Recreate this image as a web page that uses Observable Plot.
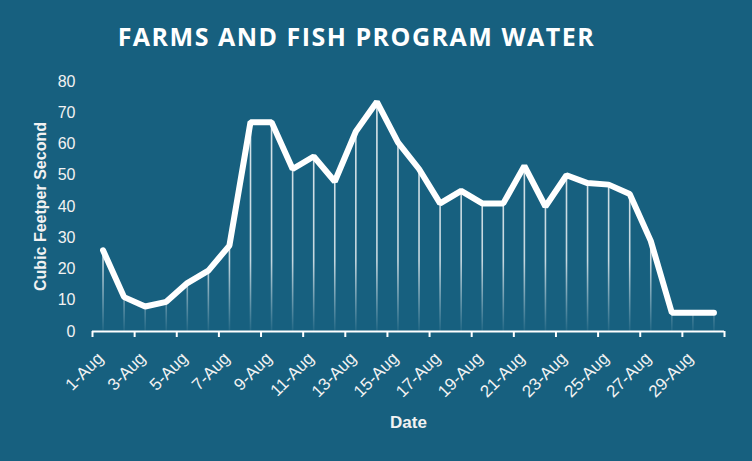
<!DOCTYPE html>
<html>
<head>
<meta charset="utf-8">
<script src="https://cdn.jsdelivr.net/npm/d3@7"></script>
<script src="https://cdn.jsdelivr.net/npm/@observablehq/plot@0.6"></script>
<style>
  html, body { margin: 0; padding: 0; background: #17607f; }
  #wrap { width: 752px; height: 461px; background: #17607f; position: relative; overflow: hidden; }
  #title { position: absolute; left: 0; top: 0; width: 713px; height: 60px; line-height: 72px; text-align: center;
    font-family: "Open Sans", sans-serif; font-weight: 700; font-size: 25px; letter-spacing: 1.5px; color: #ffffff; }
  #chart { position: absolute; left: 0; top: 60px; }
</style>
</head>
<body>
<div id="wrap">
  <div id="title">FARMS AND FISH PROGRAM WATER</div>
  <div id="chart"></div>
</div>
<script>
const days = [1,2,3,4,5,6,7,8,9,10,11,12,13,14,15,16,17,18,19,20,21,22,23,24,25,26,27,28,29,30];
const flow = [26,11,8,9.5,15.5,19.5,27.5,67,67,52,56,48,64,73.5,60.5,52,41,45,41,41,53,40,50,47.5,47,44,29,6,6,6];
const labelDays = [1,3,5,7,9,11,13,15,17,19,21,23,25,27,29];
const boundaryTicks = [0.5,2.5,4.5,6.5,8.5,10.5,12.5,14.5,16.5,18.5,20.5,22.5,24.5,26.5,28.5,30.5];
const yTicks = [0,10,20,30,40,50,60,70,80];
const month = "Aug";

const data = days.map((d, i) => ({day: d, value: flow[i]}));

const W = 752, H = 401, mt = 21, mb = 130;

const defs = () => {
  const g = d3.create("svg:defs");
  const lg = g.append("linearGradient").attr("id", "fade")
    .attr("gradientUnits", "userSpaceOnUse")
    .attr("x1", 0).attr("x2", 0).attr("y1", mt).attr("y2", H - mb);
  lg.append("stop").attr("offset", "0").attr("stop-color", "#ffffff").attr("stop-opacity", 0.85);
  lg.append("stop").attr("offset", "0.72").attr("stop-color", "#ffffff").attr("stop-opacity", 0.75);
  lg.append("stop").attr("offset", "1").attr("stop-color", "#ffffff").attr("stop-opacity", 0.05);
  return g.node();
};

const chart = Plot.plot({
  width: W,
  height: H,
  marginLeft: 92,
  marginRight: 28,
  marginTop: mt,
  marginBottom: mb,
  style: {background: "transparent", color: "#ffffff", fontFamily: "'Liberation Sans', Arial, sans-serif", overflow: "visible"},
  x: {type: "linear", domain: [0.5, 30.5]},
  y: {domain: [0, 80]},
  marks: [
    defs,
    Plot.ruleX(data, {x: "day", y1: 0, y2: "value", stroke: "url(#fade)", strokeWidth: 1.6}),
    Plot.ruleY([0], {stroke: "#ffffff", strokeWidth: 2}),
    Plot.axisX({ticks: boundaryTicks, tickFormat: () => "", tickSize: 6, stroke: "#ffffff", strokeWidth: 2, label: null}),
    Plot.axisX({ticks: labelDays, tickFormat: d => `${d}-${month}`, tickSize: 0, tickRotate: -45, tickPadding: 6, dx: -2.5, dy: 18,
      fontSize: 17, letterSpacing: 1.2, fill: "#f2f2f2", label: null}),
    Plot.axisY({ticks: yTicks, tickSize: 0, tickPadding: 17, fontSize: 16, fill: "#f2f2f2", label: null}),
    Plot.text(["Cubic Feetper Second"], {frameAnchor: "left", textAnchor: "middle", rotate: -90, dx: -52, fontSize: 16, fontWeight: "bold", fill: "#f2f2f2"}),
    Plot.text(["Date"], {frameAnchor: "bottom", dy: 96, fontSize: 17, fontWeight: "bold", fill: "#f2f2f2"}),
    Plot.line(data, {x: "day", y: "value", stroke: "#ffffff", strokeWidth: 6, strokeLinejoin: "miter", strokeLinecap: "round"})
  ]
});
document.getElementById("chart").appendChild(chart);
</script>
</body>
</html>
